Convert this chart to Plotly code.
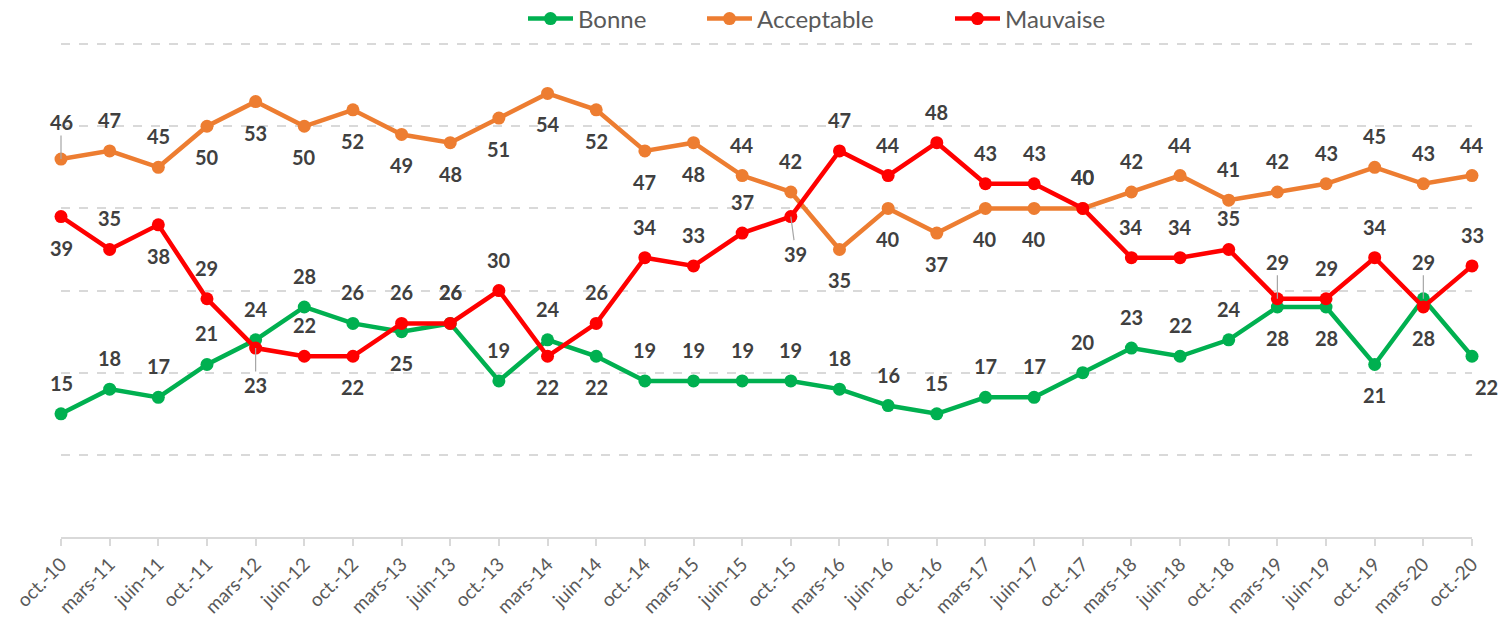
import plotly.graph_objects as go

categories = ["oct.-10", "mars-11", "juin-11", "oct.-11", "mars-12", "juin-12", "oct.-12",
              "mars-13", "juin-13", "oct.-13", "mars-14", "juin-14", "oct.-14", "mars-15",
              "juin-15", "oct.-15", "mars-16", "juin-16", "oct.-16", "mars-17", "juin-17",
              "oct.-17", "mars-18", "juin-18", "oct.-18", "mars-19", "juin-19", "oct.-19",
              "mars-20", "oct.-20"]

bonne = [15, 18, 17, 21, 24, 28, 26, 25, 26, 19, 24, 22, 19, 19, 19, 19, 18, 16, 15, 17,
         17, 20, 23, 22, 24, 28, 28, 21, 29, 22]
acceptable = [46, 47, 45, 50, 53, 50, 52, 49, 48, 51, 54, 52, 47, 48, 44, 42, 35, 40, 37, 40,
              40, 40, 42, 44, 41, 42, 43, 45, 43, 44]
mauvaise = [39, 35, 38, 29, 23, 22, 22, 26, 26, 30, 22, 26, 34, 33, 37, 39, 47, 44, 48, 43,
            43, 40, 34, 34, 35, 29, 29, 34, 28, 33]

# label placement (style): a = above, b = below
pos_bonne = "aaaaaaabaaabaaaaaaaaaaaaabbbab"
pos_acceptable = "aaabbbbbbbbbbbaabbbbbaaaaaaaaa"
pos_mauvaise = "babababaaabaaaabaaaaaaaaaaaaba"
leaders = {("Acceptable", 0), ("Mauvaise", 4), ("Mauvaise", 15), ("Mauvaise", 25), ("Bonne", 28)}
xshifts = {("Bonne", 29): 14, ("Mauvaise", 15): 5}

W, H = 1500, 621
ML, MR, MT, MB = 61, 28, 40, 84
PW = W - ML - MR
PH = H - MT - MB

series = [
    ("Bonne", bonne, "#00B050", pos_bonne, "legend", 523),
    ("Acceptable", acceptable, "#ED7D31", pos_acceptable, "legend2", 702),
    ("Mauvaise", mauvaise, "#FF0000", pos_mauvaise, "legend3", 950),
]

fig = go.Figure()
annotations = []
legends = {}
label_font = dict(family="Lato", size=20, color="#404040", weight="bold")
for name, vals, color, pos, leg, legx in series:
    fig.add_trace(go.Scatter(
        x=categories, y=vals, name=name, mode="lines+markers",
        line=dict(color=color, width=4.5),
        marker=dict(color=color, size=13),
        cliponaxis=False, legend=leg,
    ))
    legends[leg] = dict(
        x=(legx - ML) / PW, xanchor="left", y=1 + (MT - 19) / PH, yanchor="middle",
        orientation="h", font=dict(family="Lato", size=24, color="#595959"),
        bgcolor="rgba(0,0,0,0)", itemwidth=45,
    )
    for i, v in enumerate(vals):
        up = pos[i] == "a"
        xs = xshifts.get((name, i), 0)
        if (name, i) in leaders:
            annotations.append(dict(
                x=categories[i], y=v, text=str(v), showarrow=True,
                ax=xs, ay=-37 if up else 37, arrowhead=0, arrowwidth=1.2,
                arrowcolor="#a6a6a6", standoff=0, font=label_font,
            ))
        else:
            annotations.append(dict(
                x=categories[i], y=v, text=str(v), showarrow=False,
                yshift=31 if up else -31, xshift=xs, font=label_font,
            ))

fig.update_layout(
    width=W, height=H,
    margin=dict(l=ML, r=MR, t=MT, b=MB, autoexpand=False),
    paper_bgcolor="white", plot_bgcolor="white",
    font=dict(family="Lato", color="#595959"),
    annotations=annotations,
    showlegend=True,
    xaxis=dict(type="category", range=[0, len(categories) - 1], showgrid=False,
               showline=True, linecolor="#d9d9d9", linewidth=1.5,
               ticks="outside", ticklen=7, tickcolor="#d9d9d9", tickwidth=1.5,
               tickangle=-45, tickfont=dict(family="Lato", size=19, color="#595959"),
               zeroline=False),
    yaxis=dict(range=[0, 60.5], tickvals=[10, 20, 30, 40, 50, 60], showgrid=True,
               gridcolor="#d9d9d9", gridwidth=1.5, griddash="dash", showticklabels=False,
               zeroline=False, showline=False, ticks=""),
    **legends,
)

fig.write_html("out.html", config={"displayModeBar": False},
               post_script="document.body.style.margin='0';document.body.style.overflow='hidden';")
